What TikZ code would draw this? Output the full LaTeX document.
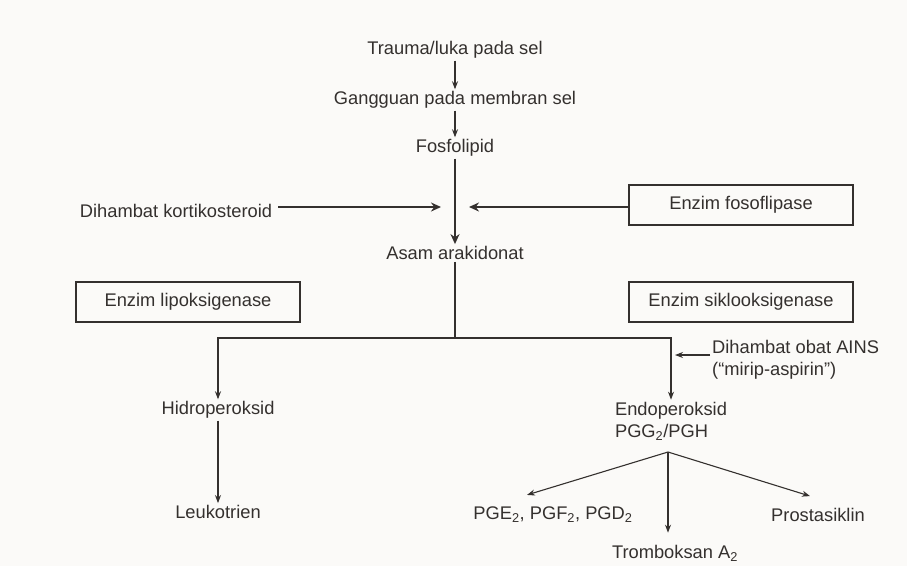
\documentclass[tikz,border=0pt]{standalone}
\usepackage{fontspec}
\setmainfont{Liberation Sans}
\usepackage{xcolor}
\usepackage{tikz}
\usetikzlibrary{arrows.meta, positioning}
\definecolor{ink}{RGB}{52,48,46}
\definecolor{paper}{RGB}{251,250,248}

\tikzset{
  lbl/.style={font=\fontsize{18.3}{22}\selectfont, text=ink, inner sep=2pt, align=center},
  enzbox/.style={lbl, draw=ink, line width=1.2pt, minimum width=224pt, minimum height=40pt},
  flow/.style={draw=ink, line width=1.1pt, -{Stealth[length=8pt,width=6pt]}},
  bigflow/.style={draw=ink, line width=2.6pt, -{Stealth[length=10pt,width=9pt]}},
}

\begin{document}
\begin{tikzpicture}[x=1pt,y=-1pt]
    % Page
    \fill[paper] (0,0) rectangle (907,566);
    \useasboundingbox (0,0) rectangle (907,566);

    % Main chain
    \node[lbl] (trauma) at (455,50) {Trauma/luka pada sel};
    \node[lbl] (gangguan) at (455,100) {Gangguan pada membran sel};
    \node[lbl] (fosfo) at (455,148) {Fosfolipid};
    \node[lbl] (asam) at (455,253) {Asam arakidonat};

    % Side inputs
    \node[lbl] (korti) at (176,211) {Dihambat kortikosteroid};
    \node[enzbox] (fosfase) at (741,205) {Enzim fosoflipase};
    \coordinate (inhL) at (441,207);
    \coordinate (inhR) at (469,207);

    % Enzymes
    \node[enzbox] (lipo) at (188,302) {Enzim lipoksigenase};
    \node[enzbox] (siklo) at (741,302) {Enzim siklooksigenase};

    % Branches
    \coordinate (split) at (455,338);
    \node[lbl] (hidro) at (218,410) {Hidroperoksid};
    \node[lbl] (leuko) at (218,512) {Leukotrien};
    \node[lbl, align=left] (endo) at (671,421) {Endoperoksid\\PGG\textsubscript{2}/PGH};
    \node[lbl, align=left, anchor=west] (ains) at (710,360) {Dihambat obat AINS\\(“mirip-aspirin”)};
    \coordinate (ainsTip) at (675,355);

    % Products
    \coordinate (fan) at (668,452);
    \node[lbl] (pge) at (553,515) {PGE\textsubscript{2}, PGF\textsubscript{2}, PGD\textsubscript{2}};
    \node[lbl] (trombo) at (675,553) {Tromboksan A\textsubscript{2}};
    \node[lbl] (prosta) at (818,515) {Prostasiklin};
    \coordinate (tromboTop) at ([yshift=10pt]trombo.north);

    % Arrows
    \draw[flow] (trauma) -- (gangguan);
    \draw[flow] (gangguan) -- (fosfo);
    \draw[bigflow] (fosfo) -- (asam);
    \draw[bigflow] ([xshift=4pt]korti.east |- inhL) -- (inhL);
    \draw[bigflow] (fosfase.west |- inhR) -- (inhR);
    \draw[draw=ink, line width=1.1pt] (asam) -- (split);
    \draw[flow] (split) -| (hidro);
    \draw[flow] (split) -| (endo);
    \draw[flow] ([yshift=5pt]ains.west) -- (ainsTip);
    \draw[flow] (hidro) -- (leuko);
    \draw[flow] (fan) -- ([xshift=-26pt,yshift=10pt]pge.north);
    \draw[flow] (fan) -- (fan |- tromboTop);
    \draw[flow] (fan) -- ([xshift=-8pt,yshift=10pt]prosta.north);
\end{tikzpicture}
\end{document}
